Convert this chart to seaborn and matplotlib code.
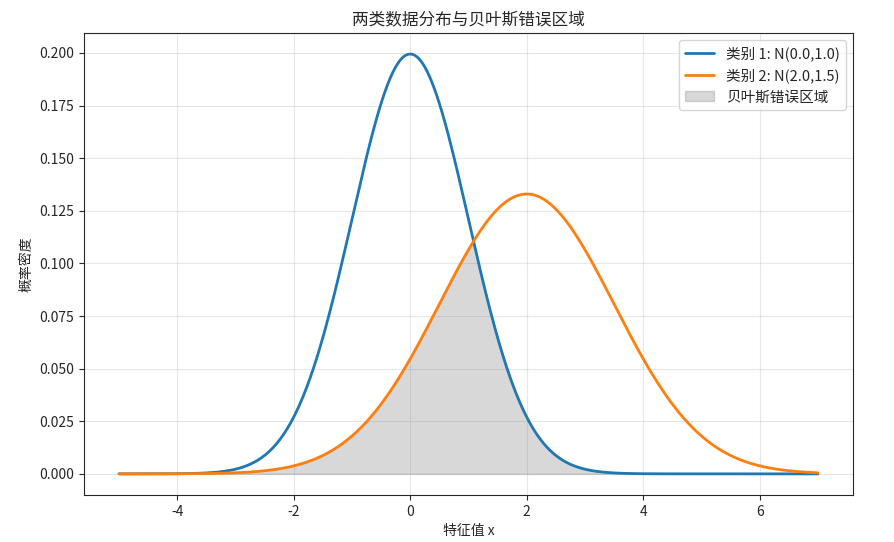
import numpy as np
import pandas as pd
import matplotlib
matplotlib.use('Agg')
import matplotlib.pyplot as plt
import seaborn as sns

# class parameters: mean, std, prior
means = [0.0, 2.0]
stds = [1.0, 1.5]
priors = [0.5, 0.5]
labels = ['类别 1: N(0.0,1.0)', '类别 2: N(2.0,1.5)']
colors = ['#1f77b4', '#ff7f0e']
x_range = [-5, 7]


def weighted_pdf(x, mu, sigma, prior):
    return prior * np.exp(-0.5 * ((x - mu) / sigma) ** 2) / (sigma * np.sqrt(2 * np.pi))


x = np.linspace(x_range[0], x_range[1], 1000)
df = pd.DataFrame({'x': x})
for i, lab in enumerate(labels):
    df[lab] = weighted_pdf(x, means[i], stds[i], priors[i])
long_df = df.melt(id_vars='x', var_name='类别', value_name='density')

sns.set_style('ticks')
plt.rcParams['font.family'] = ['Noto Sans CJK SC', 'DejaVu Sans']
plt.rcParams['axes.unicode_minus'] = False

fig, ax = plt.subplots(figsize=(8.94, 5.42), dpi=100)
sns.lineplot(data=long_df, x='x', y='density', hue='类别', palette=colors,
             linewidth=2, ax=ax)

# Bayes error region = overlap (minimum of both weighted densities)
overlap = np.minimum(df[labels[0]], df[labels[1]])
ax.fill_between(x, overlap, color='gray', alpha=0.3, label='贝叶斯错误区域')

ax.set_title('两类数据分布与贝叶斯错误区域', fontsize=12)
ax.set_xlabel('特征值 x')
ax.set_ylabel('概率密度')
ax.grid(True, color='#b0b0b0', alpha=0.3)
ax.legend(loc='upper right', fontsize=10.5)

plt.subplots_adjust(left=0.094, right=0.954, top=0.939, bottom=0.087)
plt.savefig('out.png', dpi=100)
